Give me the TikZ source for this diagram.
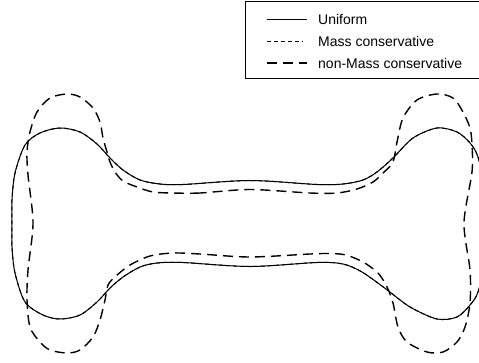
\documentclass[tikz,border=0pt]{standalone}
\usepackage{fontspec}
\setmainfont{Liberation Sans}
\begin{document}
\begin{tikzpicture}[x=1pt,y=-1pt,
  uniform/.style={line width=1pt},
  masscons/.style={line width=1pt, dash pattern=on 4pt off 3pt},
  nonmass/.style={line width=1.4pt, dash pattern=on 10pt off 6pt},
  legbox/.style={draw, line width=0.9pt, inner sep=0pt, anchor=north west,
                 minimum width=234pt, minimum height=77pt},
  legtext/.style={anchor=base west, inner sep=0pt, font=\fontsize{14}{16}\selectfont}]
\useasboundingbox (0,0) rectangle (479,362);
\begin{scope}
\clip (0,0) rectangle (479,362);
\def\uniformpts{(250,180.5) (183,184.5) (160,184) (140,180) (123,170) (110,158) (97,144) (80,132) (60,128) (40,133) (25,145) (15,173) (12,200) (12,223) (12,247) (15,273) (25,302) (43,315) (60,319) (80,315) (97,302) (110,288) (123,277) (140,267) (157,263) (183,262.5) (250,266.5) (317,262.5) (343,264) (362,272) (386,289) (410,307) (437,319) (457,317) (470,305) (478,292) (485,260) (487,223) (485,190) (478,157) (470,143) (457,132) (437,128) (413,138) (393,158) (377,172) (363,180) (343,184) (317,184.5)}
\draw[uniform] plot[smooth cycle] coordinates {\uniformpts};
\draw[masscons] plot[smooth cycle] coordinates {\uniformpts};
\draw[nonmass] plot[smooth cycle] coordinates {(250,189.5) (200,193) (173,193) (153,192) (137,187) (123,181) (115,172) (110,162) (107,152) (103,138) (100,122) (93,108) (80,97) (67,94) (50,98) (37,112) (30,132) (27,152) (28,175) (33,223) (28,270) (27,300) (30,327) (40,342) (50,350) (67,353) (80,350) (93,337) (100,320) (105,300) (108,285) (116,276) (130,265) (150,256) (173,253) (200,254) (250,257) (310,254) (330,253.5) (346,255) (363,262) (378,273) (387,287) (393,303) (398,327) (407,342) (427,352) (443,352) (457,342) (465,327) (470,303) (470,270) (464,223) (472,172) (472,145) (470,128) (463,112) (453,98) (437,94) (417,100) (403,118) (397,142) (393,162) (383,173) (373,182) (357,189) (337,193) (310,193)};
\end{scope}
% legend
\node[legbox] (legend) at (244.5,0.5) {};
\coordinate (ua) at (267,19);  \coordinate (ub) at (307,19);
\coordinate (ma) at (267,41);  \coordinate (mb) at (303,41);
\coordinate (na) at (267,63);  \coordinate (nb) at (307,63);
\draw[uniform] (ua) -- (ub);
\draw[masscons] (ma) -- (mb);
\draw[nonmass] (na) -- (nb);
\node[legtext] (tu) at (318,24.5) {Uniform};
\node[legtext] (tm) at (318,46.3) {Mass conservative};
\node[legtext] (tn) at (318,68.3) {non-Mass conservative};
\end{tikzpicture}
\end{document}
